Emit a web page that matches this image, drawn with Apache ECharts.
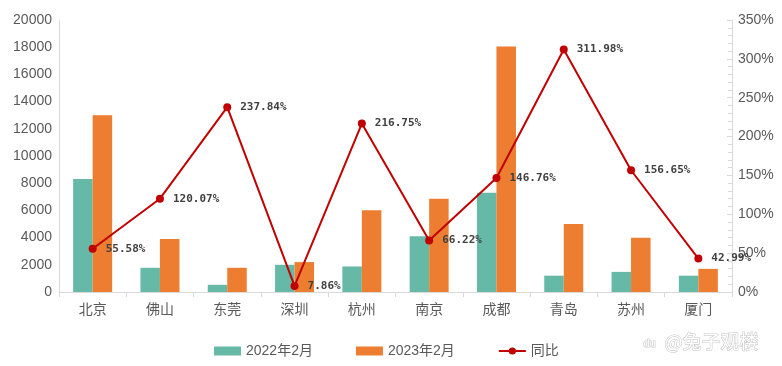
<!DOCTYPE html>
<html><head><meta charset="utf-8">
<script src="https://cdn.jsdelivr.net/npm/echarts@6/dist/echarts.min.js"></script>
<style>html,body{margin:0;padding:0;background:#fff}#c{width:782px;height:366px}</style>
</head><body><div id="c"></div>
<script>
const categories = ['北京','佛山','东莞','深圳','杭州','南京','成都','青岛','苏州','厦门'];
const values2022 = [8300, 1780, 530, 2000, 1880, 4100, 7300, 1200, 1480, 1200];
const values2023 = [13000, 3900, 1780, 2200, 6020, 6850, 18050, 5000, 3980, 1700];
const yoy = [55.58, 120.07, 237.84, 7.86, 216.75, 66.22, 146.76, 311.98, 156.65, 42.99];
const leftTicks = [0, 20000, 2000];
const rightTicks = [0, 350, 50];

const chart = echarts.init(document.getElementById('c'), null, {renderer:'canvas'});
const axisLabelStyle = {color:'#595959', fontSize:14, fontFamily:'Liberation Sans, Arial'};
chart.setOption({
  animation:false,
  grid:{left:59, right:50, top:20, bottom:74},
  legend:{
    bottom:3, left:209, itemWidth:27, itemHeight:9, itemGap:43,
    textStyle:{color:'#595959', fontSize:14, fontFamily:'Liberation Sans, Noto Sans CJK SC'},
    data:[{name:'2022年2月', icon:'rect'},{name:'2023年2月', icon:'rect'},{name:'同比'}]
  },
  xAxis:{
    type:'category', data:categories,
    axisLine:{lineStyle:{color:'#d9d9d9'}},
    axisTick:{show:true, length:5, lineStyle:{color:'#d9d9d9'}},
    axisLabel:{color:'#595959', fontSize:14, margin:10, fontFamily:'Noto Sans CJK SC'}
  },
  yAxis:[{
    type:'value', min:leftTicks[0], max:leftTicks[1], interval:leftTicks[2],
    axisLine:{show:true, lineStyle:{color:'#d9d9d9'}},
    axisTick:{show:false},
    splitLine:{show:false},
    axisLabel:Object.assign({margin:7, formatter:v=>String(v)}, axisLabelStyle)
  },{
    type:'value', min:rightTicks[0], max:rightTicks[1], interval:rightTicks[2],
    position:'right',
    axisLine:{show:true, lineStyle:{color:'#d9d9d9'}},
    axisTick:{show:true, inside:true, length:5, lineStyle:{color:'#d9d9d9'}},
    minorTick:{show:true, splitNumber:5, length:4, lineStyle:{color:'#d9d9d9'}},
    splitLine:{show:false},
    axisLabel:Object.assign({margin:6, formatter:'{value}%'}, axisLabelStyle)
  }],
  series:[{
    name:'2022年2月', type:'bar', data:values2022, barWidth:19.5, barGap:'0%',
    itemStyle:{color:'#67b9a7'}
  },{
    name:'2023年2月', type:'bar', data:values2023, barWidth:19.5,
    itemStyle:{color:'#ed7d31'}
  },{
    name:'同比', type:'line', yAxisIndex:1, data:yoy, z:10,
    symbol:'circle', symbolSize:8,
    lineStyle:{color:'#c00000', width:2},
    itemStyle:{color:'#c00000'},
    label:{show:true, position:'right', distance:9, formatter:p=>p.value.toFixed(2)+'%',
      color:'#404040', fontWeight:'bold', fontSize:11, fontFamily:'DejaVu Sans Mono'}
  }],
  graphic:[{
    type:'text', left:664, top:332,
    style:{text:'@兔子观楼', fill:'#ffffff', stroke:'#c0c0c0', lineWidth:1, fontSize:19, fontFamily:'Noto Sans CJK SC'}
  },{
    type:'text', left:643, top:338,
    style:{text:'du', fill:'#ffffff', stroke:'#c0c0c0', lineWidth:1, fontSize:11, fontFamily:'Liberation Sans'}
  }]
});
</script></body></html>
